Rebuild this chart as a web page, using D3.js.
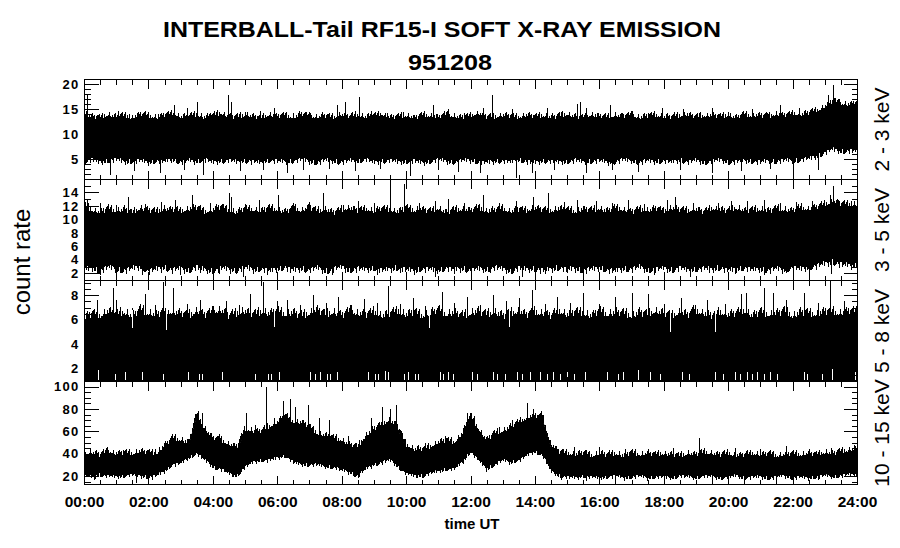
<!DOCTYPE html>
<html><head><meta charset="utf-8">
<script src="https://cdn.jsdelivr.net/npm/d3@7"></script>
<style>
body{margin:0;background:#fff}
svg{display:block}
text{font-family:"Liberation Sans",Arial,Helvetica,sans-serif;fill:#000}
</style>
</head><body>
<svg id="chart" width="900" height="548"></svg>
<script>
// ---------------- DATA ----------------
const titleText = "INTERBALL-Tail RF15-I SOFT X-RAY EMISSION";
const dateText = "951208";
const timeLabels = ["00:00","02:00","04:00","06:00","08:00","10:00","12:00","14:00","16:00","18:00","20:00","22:00","24:00"];
const bandLabels = ["2 - 3 keV","3 - 5 keV","5 - 8 keV","10 - 15 keV"];
const p1Ticks = [5,10,15,20];
const p2Ticks = [2,4,6,8,10,12,14];
const p3Ticks = [2,4,6,8];
const p4Ticks = [20,40,60,80,100];
const p1Domain = [1,21], p2Domain = [1,16], p3Domain = [1,9.25], p4Domain = [13,105];

// 15-minute envelopes (upper / lower edge of the dense trace), 00:00 .. 24:00
const p1Hi = [
13.6,13.0,12.8,13.4,12.9,13.2,12.7,13.5,13.1,12.8,13.3,13.6,
12.9,13.0,13.4,12.8,13.2,13.7,13.0,12.9,13.3,13.1,12.7,13.4,
13.0,13.2,12.8,13.5,13.1,12.9,13.2,12.8,13.4,13.0,13.3,12.9,
13.1,13.5,12.8,13.0,13.2,12.7,13.3,13.1,12.9,13.4,13.0,12.8,
13.2,13.6,13.0,12.9,13.3,13.1,12.8,13.4,13.0,13.2,12.9,13.1,
13.5,13.0,12.8,13.3,13.1,12.9,13.2,13.0,13.4,12.8,13.1,13.3,
12.9,13.0,13.2,13.4,12.9,13.1,13.3,13.0,13.2,12.8,13.4,13.1,
13.3,13.0,13.5,13.2,13.6,13.4,13.8,14.2,15.0,16.2,15.6,15.4,
15.8];
const p1Lo = [
5.0,5.4,4.8,5.2,5.5,4.9,5.1,5.3,4.7,5.2,5.0,5.4,
4.9,5.2,5.0,5.5,4.8,5.1,5.3,4.9,5.2,5.0,4.7,5.3,
5.1,4.9,5.2,5.4,5.0,4.8,5.3,5.1,4.9,5.2,5.0,5.5,
4.8,5.1,5.3,4.9,5.0,5.2,4.7,5.1,5.4,5.0,4.9,5.2,
5.3,5.0,4.8,5.1,5.2,4.9,5.4,5.0,4.8,5.2,5.1,4.9,
5.0,5.3,4.9,5.1,5.2,4.8,5.0,5.4,5.1,4.9,5.2,5.0,
5.1,4.9,5.3,5.0,5.2,4.8,5.1,5.3,4.9,5.0,5.2,5.1,
4.9,5.2,5.0,5.3,5.1,5.4,5.6,6.0,6.8,7.4,7.0,7.2,
7.0];
const p2Hi = [
11.6,11.0,10.6,11.2,10.8,11.1,10.5,11.3,10.9,10.7,11.2,11.0,
10.8,11.1,11.4,10.7,11.0,11.5,10.9,10.6,11.2,11.0,10.8,11.3,
11.0,10.7,11.2,10.9,11.4,10.8,11.1,10.6,11.0,11.3,10.9,11.1,
10.8,11.2,11.0,10.7,11.3,10.9,11.1,10.8,11.2,10.6,11.0,11.1,
10.9,11.3,10.8,11.0,11.2,10.7,11.1,10.9,11.3,11.0,10.8,11.2,
11.0,10.7,11.1,10.9,11.2,10.8,11.3,11.0,10.7,11.1,10.9,11.2,
10.8,11.3,11.0,10.9,11.1,10.7,11.2,11.0,10.8,11.3,10.9,11.0,
11.1,10.8,11.2,11.0,10.9,11.3,11.1,11.4,11.8,12.2,11.9,11.7,
11.8];
const p2Lo = [
3.0,3.3,2.8,3.4,3.1,2.9,3.2,3.5,2.8,3.1,3.3,3.0,
3.2,2.9,3.4,3.0,2.8,3.3,3.1,2.9,3.4,3.0,3.2,2.8,
3.1,3.4,2.9,3.2,3.0,3.3,2.8,3.1,3.4,2.9,3.2,3.0,
3.3,2.9,3.1,3.4,3.0,2.8,3.2,3.1,2.9,3.3,3.0,3.2,
2.9,3.2,3.0,3.4,3.1,2.8,3.3,3.0,3.2,2.9,3.1,3.4,
3.0,3.2,2.9,3.1,3.3,3.0,2.8,3.2,3.1,3.4,2.9,3.1,
3.2,3.0,3.3,2.9,3.1,3.2,3.0,3.4,2.9,3.1,3.3,3.0,
3.1,2.9,3.2,3.0,3.3,3.1,3.4,3.6,3.9,4.2,3.8,3.6,
3.7];
const p3Hi = [
5.8,6.2,6.0,6.4,6.1,6.3,6.0,6.5,6.2,6.1,6.4,6.3,
6.2,6.0,6.4,6.1,6.3,6.5,6.0,6.2,6.4,6.1,6.3,6.2,
6.4,6.1,6.3,6.0,6.2,6.5,6.1,6.3,6.0,6.4,6.2,6.1,
6.3,6.0,6.2,6.4,6.1,6.3,6.0,6.2,6.5,6.1,6.3,6.0,
6.2,6.4,6.1,6.3,6.0,6.2,6.4,6.1,6.3,6.2,6.0,6.4,
6.1,6.3,6.2,6.0,6.4,6.1,6.3,6.2,6.0,6.3,6.1,6.4,
6.2,6.0,6.3,6.1,6.4,6.2,6.0,6.3,6.1,6.2,6.4,6.0,
6.3,6.1,6.2,6.4,6.0,6.3,6.2,6.1,6.4,6.3,6.2,6.4,
6.3];
const p3Lo = [
1,1,1,1,1,1,1,1,1,1,1,1,
1,1,1,1,1,1,1,1,1,1,1,1,
1,1,1,1,1,1,1,1,1,1,1,1,
1,1,1,1,1,1,1,1,1,1,1,1,
1,1,1,1,1,1,1,1,1,1,1,1,
1,1,1,1,1,1,1,1,1,1,1,1,
1,1,1,1,1,1,1,1,1,1,1,1,
1,1,1,1,1,1,1,1,1,1,1,1,
1];
const p4Hi = [
38,39,37,40,38,39,38,40,39,38,45,52,
50,48,74,60,52,50,46,44,60,58,58,62,
66,72,66,66,62,56,54,52,50,46,44,54,
60,64,68,62,46,42,42,44,48,50,48,56,
72,60,50,56,58,62,66,70,72,70,46,40,
38,37,39,36,38,37,38,36,39,37,38,37,
38,37,36,38,37,39,38,37,38,36,37,38,
37,38,36,37,38,37,38,37,39,38,40,41,
42];
const p4Lo = [
22,21,23,22,21,22,23,22,21,22,26,32,
33,38,42,36,30,28,24,22,30,34,36,36,
38,40,34,32,32,32,30,30,27,25,22,28,
32,34,36,30,24,22,22,24,26,28,28,34,
44,36,28,32,36,34,36,40,44,40,26,22,
21,20,22,21,20,21,22,20,21,22,20,21,
21,20,22,21,20,22,21,20,21,22,20,21,
21,20,21,22,20,21,20,21,22,21,22,23,
23];
// how far the ragged fringe reaches beyond the solid band [above hi, below lo], count-rate units
const p1Fringe = [1.3, 1.2];
const p2Fringe = [1.1, 1.1];
const p3Fringe = [0.8, 0];
const p4Fringe = [6, 4];

// isolated excursions [hour, value]
const p1Up = [[0.10,17.8],[0.55,14.2],[1.07,14.6],[1.4,14.0],[1.9,14.6],[2.3,14.1],[2.8,15.8],[3.19,15.3],[3.52,16.4],[3.9,14.3],[4.48,17.8],[4.55,16.4],[5.0,14.4],[5.47,14.6],[5.9,15.3],[6.5,14.2],[7.02,14.2],[7.4,14.5],[7.85,15.8],[8.1,16.4],[8.55,17.4],[8.9,14.6],[9.4,14.3],[9.9,14.4],[10.4,14.1],[10.85,15.8],[11.3,15.0],[11.8,14.2],[12.4,15.3],[12.66,17.8],[13.3,15.0],[13.8,14.3],[14.37,15.3],[14.8,14.5],[15.3,16.0],[15.4,16.4],[15.6,15.3],[16.33,15.8],[16.7,14.2],[17.0,14.6],[17.5,14.3],[17.94,15.3],[18.6,15.0],[19.1,14.2],[19.5,15.3],[20.0,14.4],[20.73,15.0],[21.2,14.3],[21.6,15.8],[22.2,15.3],[22.6,14.6],[23.1,17.8],[23.27,19.8],[23.43,17.0],[23.75,15.8]];
const p1Down = [[0.82,1.9],[1.54,2.6],[2.37,2.2],[3.1,2.8],[3.7,1.9],[4.85,2.6],[5.57,2.8],[6.3,2.2],[6.8,2.8],[7.6,3.0],[8.4,2.6],[9.2,3.1],[10.12,1.6],[11.0,2.9],[11.6,2.5],[12.3,2.2],[13.4,1.2],[13.9,2.2],[14.6,2.8],[15.6,2.2],[16.4,2.9],[17.2,2.5],[18.5,2.8],[19.5,2.2],[20.4,2.6],[21.3,3.0],[22.0,2.2],[22.8,2.8]];
const p2Up = [[0.1,12.9],[0.5,12.4],[1.0,12.2],[1.38,13.4],[1.9,12.3],[2.4,12.6],[2.83,12.9],[3.36,13.6],[3.9,12.5],[4.49,13.9],[4.55,13.4],[5.0,12.3],[5.42,12.9],[6.03,13.6],[6.5,12.4],[7.0,12.6],[7.43,13.9],[8.05,12.2],[8.5,12.8],[9.0,12.4],[9.5,15.9],[9.92,15.2],[10.4,12.5],[10.9,12.7],[11.3,13.1],[11.8,12.4],[12.4,13.6],[12.9,12.5],[13.4,12.8],[13.95,13.4],[14.4,13.9],[14.9,12.6],[15.3,12.9],[15.9,12.7],[16.4,12.5],[16.9,12.9],[17.4,12.3],[18.1,12.9],[18.35,13.4],[18.9,12.5],[19.67,12.4],[20.1,12.7],[20.6,12.7],[21.1,12.9],[21.6,12.4],[22.1,12.6],[22.6,12.8],[23.17,13.6],[23.27,14.9],[23.4,12.9],[23.8,12.8]];
const p2Down = [[0.5,1.8],[1.0,1.5],[1.8,1.7],[2.4,2.0],[2.97,1.7],[3.6,2.1],[4.2,1.9],[4.95,1.5],[5.67,1.7],[6.4,2.0],[7.7,1.7],[8.3,2.0],[9.1,1.8],[9.8,2.1],[10.9,1.5],[11.5,1.9],[12.03,1.2],[12.6,2.0],[13.6,1.5],[14.3,1.9],[15.0,2.1],[15.5,1.4],[16.3,1.9],[17.0,2.0],[17.7,1.7],[18.8,1.5],[19.4,2.0],[20.2,1.9],[21.1,1.7],[21.8,2.0],[22.5,1.5],[23.2,1.9]];
const p3Up = [[0.4,7.6],[0.89,8.6],[1.0,7.6],[1.5,7.0],[1.9,8.1],[2.2,7.2],[2.46,9.1],[2.77,8.6],[3.2,7.3],[3.6,7.6],[4.0,7.1],[4.4,7.5],[4.8,7.2],[5.15,8.1],[5.57,9.1],[6.0,7.5],[6.3,7.6],[6.7,7.2],[7.1,8.0],[7.5,7.4],[7.9,7.9],[8.3,7.2],[8.7,7.7],[9.1,7.4],[9.45,8.8],[9.8,7.3],[10.2,7.8],[10.6,7.1],[11.1,8.3],[11.5,7.4],[11.9,7.9],[12.3,7.2],[12.7,8.0],[13.1,7.5],[13.5,7.8],[13.9,8.4],[14.3,7.3],[14.7,7.9],[15.1,7.4],[15.5,8.2],[16.0,7.3],[16.5,7.9],[17.0,8.2],[17.5,8.1],[18.0,7.3],[18.55,7.8],[18.9,7.2],[19.35,7.6],[19.9,7.3],[20.4,8.1],[20.55,8.2],[21.1,8.6],[21.4,8.2],[21.8,7.6],[22.35,8.2],[22.8,7.4],[23.17,9.2],[23.6,7.5]];
const p3Dips = [[1.5,5.3],[2.55,5.2],[5.9,5.4],[10.7,5.3],[13.2,5.4],[18.2,5.0],[19.6,5.0]];
const p3Gaps = [[0.45,1.9],[0.96,1.6],[1.27,1.7],[1.79,1.7],[2.46,1.6],[3.24,1.7],[3.57,1.6],[3.65,1.6],[4.3,1.7],[5.31,1.6],[5.72,1.6],[5.8,1.6],[6.04,1.7],[7.02,1.7],[7.17,1.6],[7.33,1.7],[7.54,1.6],[7.64,1.6],[7.85,1.7],[8.83,1.7],[9.04,1.6],[9.14,1.6],[9.35,1.8],[9.45,1.7],[9.92,1.6],[10.07,1.7],[10.28,1.6],[10.38,1.6],[11.06,1.7],[11.16,1.6],[11.31,1.7],[11.47,1.6],[12.04,1.7],[12.2,1.6],[12.71,1.7],[12.82,1.6],[13.07,1.6],[13.44,1.7],[13.59,1.6],[13.85,1.7],[14.01,1.6],[14.16,1.7],[14.37,1.6],[14.57,1.7],[14.78,1.6],[14.99,1.7],[15.2,1.6],[15.56,1.7],[16.23,1.7],[16.59,1.6],[16.75,1.7],[17.21,1.9],[17.58,1.7],[17.89,1.6],[18.56,1.7],[18.77,1.6],[19.6,1.7],[19.85,1.6],[20.22,1.7],[20.37,1.6],[20.58,1.7],[20.74,1.6],[20.89,1.7],[21.1,1.6],[21.3,1.7],[21.51,1.6],[22.34,1.7],[22.44,1.6],[22.91,1.6],[23.22,2.0],[23.94,1.7]];
const p4Up = [[0.7,46],[1.2,43],[1.6,42],[2.2,44],[2.8,56],[3.55,78],[3.65,76],[4.2,58],[5.03,76],[5.3,66],[5.65,100],[5.9,72],[6.17,87],[6.4,89],[6.55,82],[6.95,84],[7.3,72],[7.6,70],[8.2,56],[8.9,72],[9.25,82],[9.5,80],[9.7,84],[10.6,50],[11.2,56],[11.9,76],[12.1,74],[12.9,64],[13.3,70],[13.75,85],[13.95,80],[14.2,78],[15.2,46],[16.0,46],[16.8,44],[17.5,44],[18.3,45],[19.1,54],[20.2,45],[21.0,44],[21.8,47],[22.5,44],[23.2,45],[23.9,48]];
const p4Down = [[0.3,17],[1.6,14],[2.1,17],[4.6,19],[8.5,18],[10.3,18],[14.8,17],[15.6,16],[16.5,17],[18.0,16],[19.5,17],[21.5,16],[22.8,17]];

// ---------------- STYLE / LAYOUT ----------------
// relative lengths of the hair-lines that draw the ragged fringe (a fixed rendering texture)
const fringeTexture = [0.9,0.3,0.65,0.15,1.0,0.45,0.2,0.8,0.55,0.1,0.7,0.35,0.95,0.25,0.6,0.05,0.85,0.4,0.75,0.2,0.5,0.3,0.7];
const L = 84, R = 857;
const panelTop = [79, 179, 280, 381];
const panelBottom = [179, 280, 381, 484];

const svg = d3.select("#chart");
const defs = svg.append("defs");
const x = d3.scaleLinear().domain([0, 24]).range([L, R]);
const binHour = i => i * 0.25;
const columns = d3.range(L, R);

const panels = [
  {hi:p1Hi, lo:p1Lo, up:p1Up, down:p1Down, dom:p1Domain, ticks:p1Ticks, minor:1, fr:p1Fringe},
  {hi:p2Hi, lo:p2Lo, up:p2Up, down:p2Down, dom:p2Domain, ticks:p2Ticks, minor:1, fr:p2Fringe},
  {hi:p3Hi, lo:p3Lo, up:p3Up, down:[], dom:p3Domain, ticks:p3Ticks, minor:0.5, fr:p3Fringe, dips:p3Dips, gaps:p3Gaps},
  {hi:p4Hi, lo:p4Lo, up:p4Up, down:p4Down, dom:p4Domain, ticks:p4Ticks, minor:5, fr:p4Fringe}
];

const majorHours = d3.range(0, 24.001, 2);
const minorHours = d3.range(0, 24.001, 0.5).filter(h => h % 2 !== 0);
const nT = fringeTexture.length;

panels.forEach((p, k) => {
  const top = panelTop[k], bot = panelBottom[k];
  const y = d3.scaleLinear().domain(p.dom).range([bot, top]);
  const hours = p.hi.map((d, i) => binHour(i));
  const hiAt = d3.scaleLinear().domain(hours).range(p.hi);   // edge of the drawn envelope
  const loAt = d3.scaleLinear().domain(hours).range(p.lo);
  const g = svg.append("g");
  const cid = "clip" + k;
  defs.append("clipPath").attr("id", cid).append("rect")
    .attr("x", L).attr("y", top).attr("width", R - L).attr("height", bot - top);
  const data = g.append("g").attr("clip-path", `url(#${cid})`);

  const area = d3.area()
    .x((d, i) => x(hours[i]))
    .y0((d, i) => y(p.lo[i]))
    .y1((d, i) => y(p.hi[i]))
    .curve(d3.curveLinear);
  data.append("path").datum(p.hi).attr("d", area).attr("fill", "#000");

  // ragged fringe hair-lines
  const fr = data.append("g").attr("stroke", "#000").attr("stroke-width", 1).attr("shape-rendering", "crispEdges");
  fr.selectAll("line.fu").data(columns).join("line")
    .attr("x1", c => c + 0.5).attr("x2", c => c + 0.5)
    .attr("y1", c => y(hiAt(x.invert(c + 0.5))) + 1)
    .attr("y2", c => y(hiAt(x.invert(c + 0.5)) + p.fr[0] * fringeTexture[(c * 5 + k) % nT]));
  if (p.fr[1] > 0) fr.selectAll("line.fd").data(columns).join("line")
    .attr("x1", c => c + 0.5).attr("x2", c => c + 0.5)
    .attr("y1", c => y(loAt(x.invert(c + 0.5))) - 1)
    .attr("y2", c => y(loAt(x.invert(c + 0.5)) - p.fr[1] * fringeTexture[(c * 7 + 3 + k) % nT]));

  const px = t => Math.round(x(t)) + 0.5;
  data.selectAll("line.up").data(p.up).join("line")
    .attr("x1", d => px(d[0])).attr("x2", d => px(d[0]))
    .attr("y1", d => y(hiAt(d[0])) + 2).attr("y2", d => y(d[1]))
    .attr("stroke", "#000").attr("stroke-width", 1).attr("shape-rendering", "crispEdges");
  data.selectAll("line.down").data(p.down).join("line")
    .attr("x1", d => px(d[0])).attr("x2", d => px(d[0]))
    .attr("y1", d => y(loAt(d[0])) - 2).attr("y2", d => y(d[1]))
    .attr("stroke", "#000").attr("stroke-width", 1).attr("shape-rendering", "crispEdges");
  if (p.dips) data.selectAll("line.dip").data(p.dips).join("line")
    .attr("x1", d => px(d[0])).attr("x2", d => px(d[0]))
    .attr("y1", d => y(hiAt(d[0]) + p.fr[0])).attr("y2", d => y(d[1]))
    .attr("stroke", "#fff").attr("stroke-width", 1).attr("shape-rendering", "crispEdges");
  if (p.gaps) data.selectAll("line.gap").data(p.gaps).join("line")
    .attr("x1", d => px(d[0])).attr("x2", d => px(d[0]))
    .attr("y1", y(p.dom[0]) - 1).attr("y2", d => y(d[1]))
    .attr("stroke", "#fff").attr("stroke-width", 1).attr("shape-rendering", "crispEdges");

  // frame
  g.append("rect").attr("x", L + 0.5).attr("y", top + 0.5).attr("width", R - L).attr("height", bot - top)
    .attr("fill", "none").attr("stroke", "#000").attr("stroke-width", 1).attr("shape-rendering", "crispEdges");

  const minorY = d3.range(Math.ceil(p.dom[0] / p.minor) * p.minor, p.dom[1] + 1e-9, p.minor)
    .filter(v => !p.ticks.some(t => Math.abs(t - v) < 1e-6));

  const axes = g.append("g").attr("class", "ax");
  axes.append("g").attr("transform", `translate(${L + 0.5},0)`)
    .call(d3.axisLeft(y).tickValues(p.ticks).tickSize(-14).tickPadding(5).tickFormat(d3.format("d")));
  axes.append("g").attr("transform", `translate(${L + 0.5},0)`)
    .call(d3.axisLeft(y).tickValues(minorY).tickSize(-6).tickFormat(""));
  axes.append("g").attr("transform", `translate(${R + 0.5},0)`)
    .call(d3.axisRight(y).tickValues(p.ticks).tickSize(-14).tickFormat(""));
  axes.append("g").attr("transform", `translate(${R + 0.5},0)`)
    .call(d3.axisRight(y).tickValues(minorY).tickSize(-6).tickFormat(""));
  axes.append("g").attr("transform", `translate(0,${top + 0.5})`)
    .call(d3.axisBottom(x).tickValues(majorHours).tickSize(9).tickFormat(""));
  axes.append("g").attr("transform", `translate(0,${top + 0.5})`)
    .call(d3.axisBottom(x).tickValues(minorHours).tickSize(5).tickFormat(""));
  axes.append("g").attr("transform", `translate(0,${bot + 0.5})`)
    .call(d3.axisTop(x).tickValues(majorHours).tickSize(9).tickFormat(""));
  axes.append("g").attr("transform", `translate(0,${bot + 0.5})`)
    .call(d3.axisTop(x).tickValues(minorHours).tickSize(5).tickFormat(""));

  // band label on the right
  svg.append("text")
    .attr("transform", `translate(889,${(top + bot) / 2 + 0.5}) rotate(-90)`)
    .attr("text-anchor", "middle").attr("font-size", 21)
    .text(bandLabels[k]);
});

svg.selectAll(".ax .domain").remove();
svg.selectAll(".ax line").attr("stroke", "#000").attr("shape-rendering", "crispEdges");
svg.selectAll(".ax text").attr("font-size", 13).attr("font-weight", "bold")
  .attr("letter-spacing", "1.3px").attr("font-family", '"Liberation Sans",Arial,sans-serif').attr("fill", "#000");

// bottom time labels
const xl = svg.append("g").attr("class", "xl").attr("transform", `translate(0,${panelBottom[3]})`)
  .call(d3.axisBottom(x).tickValues(majorHours).tickSize(0).tickPadding(12).tickFormat((d, i) => timeLabels[i]));
xl.select(".domain").remove();
xl.selectAll("text").attr("font-size", 15.5).attr("font-weight", "bold")
  .attr("font-family", '"Liberation Sans",Arial,sans-serif').attr("fill", "#000");

// titles
svg.append("text").attr("x", 442).attr("y", 37).attr("text-anchor", "middle")
  .attr("font-size", 22).attr("font-weight", "bold")
  .attr("textLength", 558).attr("lengthAdjust", "spacingAndGlyphs").text(titleText);
svg.append("text").attr("x", 450).attr("y", 70).attr("text-anchor", "middle")
  .attr("font-size", 22).attr("font-weight", "bold")
  .attr("textLength", 84).attr("lengthAdjust", "spacingAndGlyphs").text(dateText);
svg.append("text").attr("x", 472).attr("y", 529).attr("text-anchor", "middle")
  .attr("font-size", 15).attr("font-weight", "bold").text("time UT");
svg.append("text").attr("transform", "translate(30,262) rotate(-90)").attr("text-anchor", "middle")
  .attr("font-size", 24).text("count rate");
</script>
</body></html>
